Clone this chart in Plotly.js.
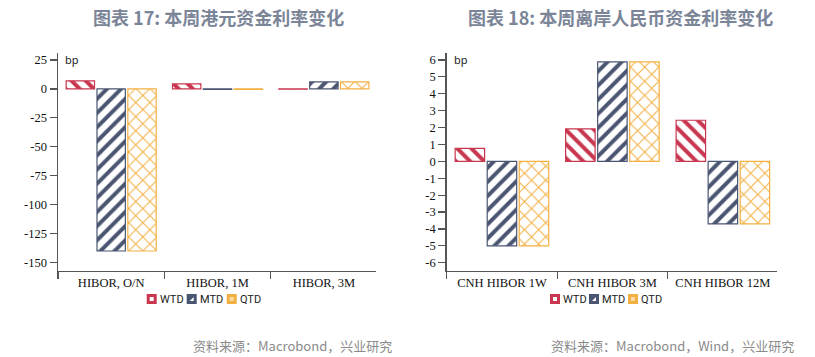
<!DOCTYPE html>
<html><head><meta charset="utf-8">
<script src="https://cdn.plot.ly/plotly-3.0.1.min.js"></script>
<style>html,body{margin:0;padding:0;background:#fff;}#c{width:815px;height:357px;}</style>
</head><body><div id="c"></div>
<script>
// Left chart: HKD funding rates (bp)
const catsL = ['HIBOR, O/N', 'HIBOR, 1M', 'HIBOR, 3M'];
const wtdL = [7, 4.3, -0.3];
const mtdL = [-140, -0.5, 6];
const qtdL = [-140, -0.5, 6];
const ticksL = [25, 0, -25, -50, -75, -100, -125, -150];
// Right chart: CNH funding rates (bp)
const catsR = ['CNH HIBOR 1W', 'CNH HIBOR 3M', 'CNH HIBOR 12M'];
const wtdR = [0.77, 1.92, 2.43];
const mtdR = [-5.0, 5.88, -3.7];
const qtdR = [-5.0, 5.88, -3.7];
const ticksR = [6, 5, 4, 3, 2, 1, 0, -1, -2, -3, -4, -5, -6];
const seriesNames = ['WTD', 'MTD', 'QTD'];
const titleL = '图表 17: 本周港元资金利率变化';
const titleR = '图表 18: 本周离岸人民币资金利率变化';
const srcL = '资料来源：Macrobond，兴业研究';
const srcR = '资料来源：Macrobond，Wind，兴业研究';
const unitLabel = 'bp';

const W = 815, H = 357;
const colors = ['#c8364f', '#4a5571', '#f3b042'];
const shapesP = ['\\', '/', 'x'];
const sol = [0.4, 0.4, 0.2];
const psize = [10, 10, 10];

function mk(x, y, i, xa, ya) {
  return {
    type: 'bar', x: x, y: y, name: seriesNames[i], xaxis: xa, yaxis: ya,
    showlegend: false,
    marker: {
      color: '#ffffff',
      line: {color: colors[i], width: 1.2},
      pattern: {shape: shapesP[i], fgcolor: colors[i], fgopacity: 1, bgcolor: '#ffffff', size: psize[i], solidity: sol[i], fillmode: 'overlay'}
    },
    hoverinfo: 'skip'
  };
}
const data = [
  mk(catsL, wtdL, 0, 'x', 'y'),
  mk(catsL, mtdL, 1, 'x', 'y'),
  mk(catsL, qtdL, 2, 'x', 'y'),
  mk(catsR, wtdR, 0, 'x2', 'y2'),
  mk(catsR, mtdR, 1, 'x2', 'y2'),
  mk(catsR, qtdR, 2, 'x2', 'y2')
];
const px = v => v / W, py = v => (H - v) / H;
const tickFont = {family: 'Liberation Serif, Times New Roman, serif', size: 12.5, color: '#111'};
function xax(dom, anchor) {
  return {domain: dom, anchor: anchor, type: 'category', range: [-0.5, 2.49],
    showline: true, linecolor: '#555', linewidth: 1.5, ticks: 'outside', tickson: 'boundaries',
    ticklen: 7, tickcolor: '#555', tickwidth: 1.2, tickfont: tickFont, showgrid: false, zeroline: false, fixedrange: true};
}
function yax(dom, anchor, rng, tv) {
  return {domain: dom, anchor: anchor, range: rng, tickmode: 'array', tickvals: tv,
    ticktext: tv.map(v => String(v)), showline: true, linecolor: '#555', linewidth: 1.5,
    ticks: 'outside', ticklen: 7, tickcolor: '#555', tickwidth: 1.2, tickfont: tickFont,
    showgrid: false, zeroline: false, fixedrange: true};
}
// manual compact legends
const legFont = {family: 'Roboto, sans-serif', size: 11, color: '#222'};
const shapes = [];
const annotations = [];
function legend(xs, yc) {
  xs.forEach((x0, i) => {
    const x1 = x0 + 10, y0 = yc - 5, y1 = yc + 5;
    shapes.push({type: 'rect', xref: 'paper', yref: 'paper', x0: px(x0), x1: px(x1), y0: py(y1), y1: py(y0),
      fillcolor: colors[i], line: {width: 0}});
    if (i === 0) {
      shapes.push({type: 'rect', xref: 'paper', yref: 'paper', x0: px(x0 + 3), x1: px(x1 - 3), y0: py(y1 - 3), y1: py(y0 + 3),
        fillcolor: '#ffffff', line: {width: 0}});
    } else if (i === 1) {
      shapes.push({type: 'path', xref: 'paper', yref: 'paper',
        path: 'M' + px(x0 + 3) + ',' + py(y1 - 3) + 'L' + px(x1 - 3) + ',' + py(y0 + 3) + 'L' + px(x1 - 3) + ',' + py(y1 - 3) + 'Z',
        fillcolor: '#ffffff', line: {width: 0}});
    } else {
      shapes.push({type: 'rect', xref: 'paper', yref: 'paper', x0: px(x0 + 3), x1: px(x1 - 3), y0: py(y1 - 3), y1: py(y0 + 3),
        fillcolor: '#fbdca4', line: {width: 0}});
    }
    annotations.push({text: seriesNames[i], x: px(x1 + 1), y: py(yc), xref: 'paper', yref: 'paper', showarrow: false,
      xanchor: 'left', yanchor: 'middle', font: legFont});
  });
}
legend([146.7, 186.7, 226.7], 299);
legend([550, 589, 628], 299);
const titleFont = {family: 'Noto Sans CJK SC', size: 18, color: '#7b8598'};
const srcFont = {family: 'Noto Sans CJK SC', size: 13, color: '#8a8a8a'};
const bpFont = {family: 'Noto Sans, sans-serif', size: 11, color: '#222'};
annotations.push(
  {text: '<b>' + titleL + '</b>', x: px(218), y: py(17), xref: 'paper', yref: 'paper', showarrow: false,
    xanchor: 'center', yanchor: 'middle', font: titleFont},
  {text: '<b>' + titleR + '</b>', x: px(620), y: py(17), xref: 'paper', yref: 'paper', showarrow: false,
    xanchor: 'center', yanchor: 'middle', font: titleFont},
  {text: srcL, x: px(394), y: py(345), xref: 'paper', yref: 'paper', showarrow: false,
    xanchor: 'right', yanchor: 'middle', font: srcFont},
  {text: srcR, x: px(796), y: py(345), xref: 'paper', yref: 'paper', showarrow: false,
    xanchor: 'right', yanchor: 'middle', font: srcFont},
  {text: unitLabel, x: px(63), y: py(60), xref: 'paper', yref: 'paper', showarrow: false,
    xanchor: 'left', yanchor: 'middle', font: bpFont},
  {text: unitLabel, x: px(452), y: py(60), xref: 'paper', yref: 'paper', showarrow: false,
    xanchor: 'left', yanchor: 'middle', font: bpFont}
);
const layout = {
  width: W, height: H, margin: {l: 0, r: 0, t: 0, b: 0},
  paper_bgcolor: '#fff', plot_bgcolor: '#fff', showlegend: false,
  barmode: 'group', bargap: 0.13, bargroupgap: 0.08,
  xaxis: xax([px(58), px(376)], 'y'),
  yaxis: yax([py(270.7), py(53)], 'x', [-157, 31], ticksL),
  xaxis2: xax([px(446.7), px(777)], 'y2'),
  yaxis2: yax([py(270.7), py(53)], 'x2', [-6.47, 6.41], ticksR),
  shapes: shapes,
  annotations: annotations
};
Plotly.newPlot('c', data, layout, {displayModeBar: false, staticPlot: true});
</script></body></html>
